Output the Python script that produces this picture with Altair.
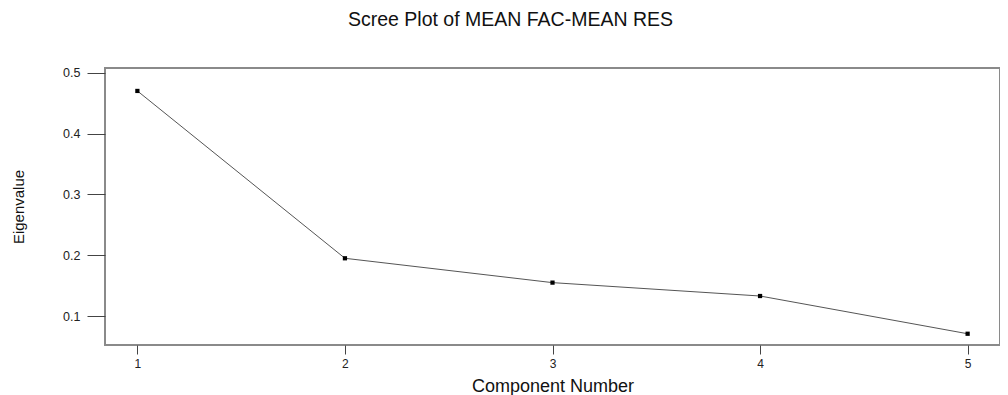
import altair as alt
import pandas as pd

components = [1, 2, 3, 4, 5]
eigenvalues = [0.470, 0.195, 0.155, 0.133, 0.071]
x_ticks = [1, 2, 3, 4, 5]
y_ticks = [0.1, 0.2, 0.3, 0.4, 0.5]

df = pd.DataFrame({"Component": components, "Eigenvalue": eigenvalues})

FONT = "Liberation Sans"

x_enc = alt.X(
    "Component:Q",
    scale=alt.Scale(domain=[0.844, 5.156], nice=False, zero=False),
    axis=alt.Axis(
        values=x_ticks, format="d", title="Component Number", grid=False, domain=False,
        tickSize=9, tickColor="#444444", tickWidth=1, labelPadding=4,
        labelFont=FONT, labelFontSize=12, labelColor="#222222",
        titleFont=FONT, titleFontSize=18, titleFontWeight="normal", titleColor="#111111",
        titleY=46, titleBaseline="alphabetic",
    ),
)
y_enc = alt.Y(
    "Eigenvalue:Q",
    scale=alt.Scale(domain=[0.0525, 0.5077], nice=False, zero=False),
    axis=alt.Axis(
        values=y_ticks, format=".1f", title="Eigenvalue", grid=False, domain=False,
        tickSize=18, tickColor="#444444", tickWidth=1, labelPadding=7,
        labelFont=FONT, labelFontSize=12.5, labelColor="#222222",
        titleFont=FONT, titleFontSize=15, titleFontWeight="normal", titleColor="#111111",
        titleX=-87, titleY=138.5, titleAngle=270, titleBaseline="middle", titleAlign="center",
    ),
)

base = alt.Chart(df).encode(x=x_enc, y=y_enc)
line = base.mark_line(color="#555555", strokeWidth=1)
pts = base.mark_square(size=18, color="black", opacity=1)

chart = (
    alt.layer(line, pts)
    .properties(
        width=895,
        height=277,
        padding={"left": 97, "top": 60, "right": 0, "bottom": 50},
        autosize="none",
        title=alt.TitleParams(
            "Scree Plot of MEAN FAC-MEAN RES",
            font=FONT, fontSize=19.5, fontWeight="normal", color="#111111",
            anchor="middle", dx=-42, offset=21, baseline="alphabetic",
        ),
    )
    .configure_view(stroke="#8a8a8a", strokeWidth=2)
)

chart.save("out.html", embed_options={"renderer": "svg", "actions": False})
